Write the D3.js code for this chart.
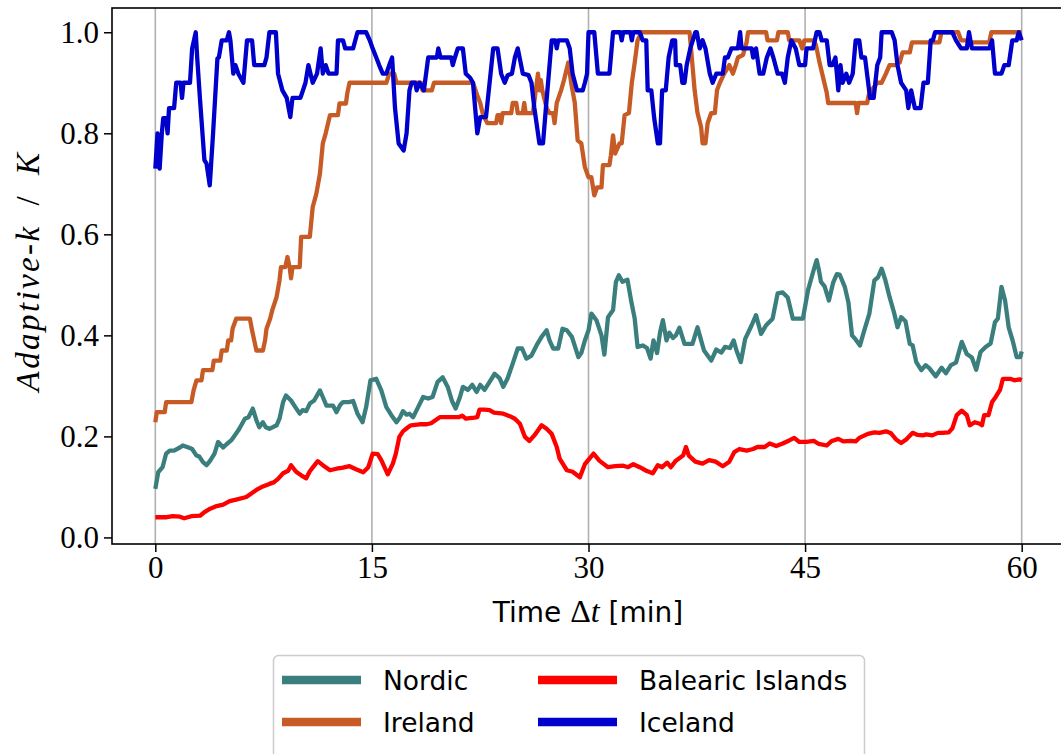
<!DOCTYPE html>
<html>
<head>
<meta charset="utf-8">
<script src="https://cdn.jsdelivr.net/npm/d3@7"></script>
<style>
  body { margin: 0; background: #ffffff; }
  svg { display: block; }
</style>
</head>
<body>
<svg id="chart" width="1061" height="754"></svg>
<script>
// ---- data -------------------------------------------------------------
const seriesNames = ["Nordic", "Ireland", "Balearic Islands", "Iceland"];
const xTicks = [0, 15, 30, 45, 60];
const yTicks = [0.0, 0.2, 0.4, 0.6, 0.8, 1.0];

// [time in minutes, adaptive-k / K]
const nordic = [
  [0,0.096],[0.2,0.129],[0.5,0.139],[0.75,0.166],[1.0,0.172],[1.3,0.172],[1.7,0.178],[1.9,0.182],[2.3,0.178],[2.55,0.175],
  [2.85,0.162],[3.05,0.16],[3.3,0.149],[3.55,0.143],[3.8,0.152],[4.1,0.166],[4.35,0.189],[4.7,0.178],[4.95,0.185],[5.25,0.192],
  [5.5,0.202],[5.75,0.212],[5.95,0.222],[6.2,0.235],[6.45,0.238],[6.75,0.255],[7.0,0.232],[7.2,0.218],[7.45,0.228],[7.65,0.218],
  [7.9,0.215],[8.4,0.222],[8.6,0.235],[8.85,0.268],[9.05,0.281],[9.4,0.271],[9.65,0.26],[10.0,0.245],[10.2,0.252],[10.45,0.25],
  [10.7,0.265],[11.0,0.271],[11.4,0.291],[11.6,0.278],[11.85,0.261],[12.3,0.261],[12.55,0.248],[12.8,0.262],[13.0,0.268],[13.4,0.268],
  [13.7,0.27],[14.0,0.245],[14.35,0.228],[14.6,0.258],[14.9,0.311],[15.3,0.314],[15.65,0.291],[16.0,0.258],[16.35,0.242],[16.7,0.228],
  [16.95,0.238],[17.15,0.25],[17.4,0.243],[17.6,0.245],[17.85,0.238],[18.2,0.258],[18.55,0.278],[18.9,0.275],[19.2,0.278],[19.55,0.308],
  [19.9,0.317],[20.25,0.298],[20.55,0.27],[20.8,0.255],[21.1,0.278],[21.3,0.298],[21.65,0.292],[21.95,0.302],[22.25,0.288],[22.5,0.302],
  [22.8,0.292],[23.15,0.308],[23.5,0.324],[23.85,0.315],[24.1,0.298],[24.4,0.315],[24.75,0.344],[25.1,0.374],[25.4,0.374],[25.7,0.354],
  [26.05,0.36],[26.4,0.38],[26.75,0.397],[27.1,0.41],[27.3,0.39],[27.55,0.374],[27.9,0.374],[28.2,0.413],[28.5,0.41],[28.85,0.397],
  [29.3,0.357],[29.5,0.365],[29.75,0.39],[30.0,0.41],[30.2,0.443],[30.55,0.43],[30.9,0.40],[31.1,0.362],[31.35,0.436],[31.7,0.45],
  [31.9,0.506],[32.1,0.519],[32.35,0.506],[32.7,0.51],[32.95,0.469],[33.2,0.433],[33.4,0.377],[33.75,0.38],[34.05,0.375],[34.3,0.354],
  [34.5,0.39],[34.75,0.365],[34.95,0.405],[35.15,0.43],[35.4,0.39],[35.6,0.405],[35.85,0.395],[36.05,0.40],[36.3,0.415],[36.65,0.383],
  [37.2,0.383],[37.55,0.416],[37.8,0.39],[38.0,0.37],[38.5,0.35],[38.85,0.372],[39.2,0.366],[39.45,0.377],[39.8,0.375],[40.05,0.39],
  [40.25,0.37],[40.55,0.347],[40.85,0.393],[41.3,0.42],[41.6,0.44],[41.95,0.403],[42.3,0.42],[42.75,0.433],[43.1,0.483],[43.45,0.485],
  [43.8,0.475],[44.15,0.433],[44.85,0.433],[45.2,0.489],[45.55,0.525],[45.8,0.549],[45.95,0.53],[46.1,0.506],[46.35,0.497],[46.65,0.469],
  [46.95,0.505],[47.2,0.521],[47.4,0.52],[47.75,0.496],[48.0,0.465],[48.25,0.40],[48.5,0.392],[48.8,0.38],[49.1,0.41],[49.45,0.443],
  [49.8,0.509],[50.05,0.515],[50.3,0.532],[50.55,0.51],[50.85,0.476],[51.15,0.446],[51.4,0.416],[51.65,0.436],[51.95,0.428],[52.25,0.383],
  [52.45,0.38],[52.7,0.347],[53.05,0.331],[53.35,0.341],[53.6,0.335],[54.05,0.319],[54.45,0.336],[54.75,0.325],[55.1,0.341],[55.45,0.346],
  [55.85,0.387],[56.2,0.363],[56.55,0.356],[56.85,0.332],[57.15,0.367],[57.5,0.377],[57.85,0.384],[58.15,0.426],[58.35,0.433],[58.6,0.496],
  [58.85,0.469],[59.1,0.416],[59.4,0.387],[59.65,0.357],[59.9,0.357],[60,0.368]
];

const ireland = [
  [0,0.228],[0.1,0.248],[0.65,0.248],[0.75,0.268],[2.5,0.268],[2.65,0.291],[2.85,0.311],[3.2,0.311],[3.3,0.331],[3.95,0.331],
  [4.05,0.35],[4.5,0.35],[4.6,0.37],[4.95,0.37],[5.05,0.39],[5.25,0.39],[5.35,0.413],[5.6,0.433],[6.55,0.433],[6.7,0.41],
  [6.85,0.39],[7.0,0.37],[7.45,0.37],[7.6,0.39],[7.7,0.413],[7.95,0.433],[8.1,0.45],[8.4,0.476],[8.6,0.509],[8.7,0.535],
  [9.0,0.535],[9.15,0.555],[9.3,0.535],[9.4,0.513],[9.5,0.535],[10.0,0.535],[10.1,0.595],[10.7,0.595],[10.9,0.654],[11.15,0.68],
  [11.4,0.72],[11.6,0.78],[11.8,0.80],[12.1,0.836],[12.65,0.836],[12.75,0.859],[13.2,0.859],[13.3,0.88],[13.45,0.90],[16.0,0.90],
  [16.2,0.918],[16.55,0.918],[16.7,0.90],[18.4,0.90],[18.5,0.885],[19.15,0.885],[19.3,0.90],[22.0,0.90],[22.3,0.875],[22.5,0.86],
  [22.7,0.836],[23.0,0.82],[23.6,0.82],[23.7,0.836],[23.85,0.836],[23.95,0.82],[24.05,0.84],[24.65,0.84],[24.75,0.86],[25.0,0.86],
  [25.1,0.84],[25.45,0.84],[25.55,0.86],[25.65,0.84],[26.15,0.84],[26.35,0.885],[26.5,0.918],[26.6,0.885],[26.7,0.905],[26.8,0.885],
  [27.1,0.85],[27.3,0.84],[27.55,0.84],[27.65,0.82],[27.8,0.86],[28.1,0.885],[28.3,0.905],[28.6,0.94],[28.8,0.90],[29.05,0.86],
  [29.25,0.786],[29.5,0.78],[29.75,0.733],[30.0,0.713],[30.2,0.713],[30.4,0.677],[30.6,0.693],[30.9,0.693],[31.0,0.737],[31.45,0.737],
  [31.55,0.756],[31.7,0.796],[31.85,0.76],[32.15,0.78],[32.3,0.78],[32.5,0.836],[32.8,0.84],[33.0,0.90],[33.2,0.94],[33.4,0.984],
  [33.67,1.0],[37.0,1.0],[37.1,0.968],[37.35,0.885],[37.55,0.84],[37.8,0.812],[37.9,0.78],[38.1,0.78],[38.25,0.82],[38.5,0.84],
  [38.75,0.84],[38.9,0.885],[39.1,0.90],[39.4,0.918],[39.75,0.935],[40.0,0.918],[40.2,0.935],[40.35,0.95],[40.7,0.955],[40.95,0.98],
  [41.05,1.0],[42.3,1.0],[42.4,0.984],[43.05,0.984],[43.15,1.0],[43.8,1.0],[43.9,0.984],[44.6,0.984],[44.8,0.968],[44.95,0.984],
  [45.6,0.984],[45.75,0.975],[46.0,0.94],[46.25,0.91],[46.5,0.88],[46.6,0.86],[48.5,0.86],[48.6,0.84],[48.7,0.86],[49.3,0.86],
  [49.4,0.875],[49.6,0.885],[50.0,0.90],[50.3,0.90],[50.6,0.918],[50.85,0.935],[51.3,0.935],[51.55,0.94],[51.75,0.96],[52.25,0.96],
  [52.4,0.98],[54.3,0.98],[54.45,1.0],[55.6,1.0],[55.8,0.984],[56.3,0.984],[56.4,0.98],[57.75,0.98],[57.9,1.0],[60,1.0]
];

const balearic = [
  [0,0.040],[0.8,0.040],[1.2,0.042],[1.7,0.041],[2.0,0.038],[2.5,0.042],[3.1,0.043],[3.4,0.050],[3.8,0.057],[4.25,0.062],
  [4.7,0.065],[5.15,0.072],[5.6,0.075],[6.3,0.080],[6.65,0.087],[7.0,0.094],[7.45,0.101],[7.9,0.106],[8.2,0.109],[8.5,0.116],
  [8.85,0.127],[9.2,0.132],[9.4,0.143],[9.75,0.130],[10.1,0.123],[10.45,0.117],[10.7,0.131],[10.95,0.140],[11.25,0.151],[11.6,0.143],
  [12.1,0.133],[12.55,0.136],[13.0,0.138],[13.45,0.141],[13.9,0.135],[14.4,0.129],[14.75,0.139],[15.05,0.166],[15.4,0.165],[15.65,0.153],
  [16.1,0.125],[16.45,0.146],[16.65,0.165],[16.9,0.199],[17.15,0.21],[17.5,0.218],[17.7,0.222],[18.3,0.224],[18.8,0.224],[19.1,0.226],
  [19.45,0.233],[19.7,0.238],[20.4,0.238],[21.0,0.238],[21.25,0.241],[21.5,0.235],[22.1,0.237],[22.3,0.238],[22.45,0.253],[22.8,0.253],
  [23.15,0.252],[23.45,0.247],[24.1,0.245],[24.55,0.24],[24.9,0.235],[25.25,0.225],[25.6,0.199],[25.9,0.191],[26.25,0.202],[26.75,0.222],
  [27.1,0.215],[27.45,0.205],[27.8,0.179],[28.0,0.156],[28.5,0.133],[28.9,0.13],[29.4,0.119],[29.75,0.145],[30.35,0.166],[30.75,0.152],
  [31.35,0.139],[31.85,0.141],[32.4,0.142],[32.75,0.139],[33.1,0.145],[33.55,0.139],[34.0,0.132],[34.45,0.127],[34.8,0.143],[35.1,0.139],
  [35.45,0.148],[35.7,0.139],[36.05,0.152],[36.55,0.162],[36.75,0.179],[36.95,0.162],[37.4,0.15],[37.9,0.146],[38.35,0.153],[38.8,0.15],
  [39.3,0.141],[39.75,0.15],[40.1,0.169],[40.45,0.175],[40.95,0.172],[41.4,0.175],[41.7,0.179],[42.2,0.179],[42.55,0.186],[43.0,0.181],
  [43.45,0.186],[43.9,0.192],[44.25,0.197],[44.6,0.189],[45.1,0.189],[45.6,0.191],[45.95,0.185],[46.5,0.182],[46.85,0.191],[47.3,0.195],
  [47.65,0.19],[48.15,0.191],[48.5,0.19],[48.75,0.197],[49.35,0.205],[49.8,0.208],[50.15,0.207],[50.6,0.21],[50.95,0.206],[51.3,0.194],
  [51.65,0.187],[52.0,0.194],[52.45,0.207],[52.8,0.203],[53.15,0.202],[53.4,0.204],[53.8,0.202],[54.2,0.207],[54.5,0.207],[54.95,0.208],
  [55.2,0.216],[55.5,0.242],[55.85,0.251],[56.2,0.242],[56.4,0.222],[56.75,0.228],[57.1,0.225],[57.25,0.222],[57.4,0.242],[57.7,0.242],
  [57.95,0.268],[58.2,0.278],[58.5,0.292],[58.7,0.314],[59.2,0.314],[59.5,0.311],[59.85,0.313],[60,0.311]
];

const iceland = [
  [0,0.73],[0.15,0.80],[0.3,0.73],[0.45,0.80],[0.55,0.83],[0.75,0.83],[0.85,0.80],[0.95,0.85],[1.3,0.85],[1.45,0.90],
  [1.75,0.90],[1.85,0.87],[1.95,0.90],[2.4,0.90],[2.55,0.968],[2.8,1.0],[2.9,0.95],[3.1,0.865],[3.4,0.747],[3.55,0.74],
  [3.77,0.697],[4.0,0.80],[4.3,0.948],[4.4,0.95],[4.6,0.984],[4.95,0.984],[5.1,1.0],[5.2,0.984],[5.4,0.918],[5.55,0.935],
  [5.75,0.918],[6.1,0.90],[6.35,0.984],[6.7,0.984],[6.85,0.935],[7.55,0.935],[7.7,0.95],[7.9,1.0],[8.35,1.0],[8.5,0.918],
  [8.8,0.885],[9.1,0.87],[9.35,0.832],[9.5,0.87],[10.05,0.87],[10.4,0.90],[10.6,0.935],[10.9,0.90],[11.2,0.918],[11.45,0.968],
  [11.6,0.918],[11.8,0.935],[12.0,0.918],[12.55,0.918],[12.65,0.984],[13.0,0.984],[13.15,0.968],[13.7,0.968],[14.0,1.0],[14.6,1.0],
  [14.85,0.984],[15.05,0.968],[15.3,0.95],[15.5,0.935],[15.75,0.918],[16.0,0.918],[16.2,0.935],[16.4,0.95],[16.6,0.85],[16.85,0.78],
  [17.2,0.766],[17.4,0.80],[17.6,0.885],[17.75,0.90],[18.0,0.90],[18.1,0.885],[18.3,0.90],[18.6,0.885],[18.9,0.95],[19.5,0.95],
  [19.6,0.968],[19.75,0.95],[20.5,0.95],[20.6,0.935],[20.75,0.95],[20.95,0.968],[21.3,0.968],[21.5,0.918],[21.8,0.91],[22.0,0.90],
  [22.15,0.85],[22.3,0.80],[22.5,0.832],[22.9,0.832],[23.15,0.90],[23.4,0.968],[23.7,0.968],[23.95,0.918],[24.2,0.90],[24.4,0.915],
  [24.7,0.918],[24.9,0.95],[25.1,0.968],[25.3,0.94],[25.45,0.918],[25.85,0.915],[26.05,0.90],[26.25,0.85],[26.5,0.80],[26.6,0.78],
  [26.85,0.78],[27.05,0.85],[27.45,0.984],[27.7,0.984],[27.8,0.968],[27.9,0.984],[28.5,0.984],[28.7,0.968],[28.9,0.918],[29.2,0.885],
  [29.6,0.885],[29.75,0.90],[29.9,0.918],[30.0,1.0],[30.4,1.0],[30.65,0.918],[31.45,0.918],[31.7,1.0],[32.2,1.0],[32.3,0.984],
  [32.4,1.0],[32.9,1.0],[33.0,0.984],[33.1,1.0],[33.55,1.0],[33.75,0.984],[34.0,0.984],[34.1,0.885],[34.35,0.885],[34.55,0.83],
  [34.8,0.78],[34.95,0.78],[35.1,0.885],[35.35,0.885],[35.55,0.95],[35.8,0.984],[36.0,0.984],[36.05,0.935],[36.35,0.935],[36.5,0.90],
  [36.65,0.90],[36.8,0.935],[37.05,0.968],[37.4,1.0],[37.5,1.0],[37.7,0.968],[37.9,0.984],[38.1,0.968],[38.4,0.918],[38.6,0.90],
  [38.85,0.918],[39.3,0.918],[39.45,0.95],[39.65,0.95],[39.9,0.968],[40.35,0.968],[40.5,1.0],[40.6,0.968],[41.3,0.968],[41.4,0.95],
  [41.6,0.968],[41.85,0.918],[42.1,0.918],[42.35,0.95],[42.6,0.968],[42.8,0.95],[43.1,0.918],[43.4,0.918],[43.6,0.90],[43.8,0.95],
  [44.05,0.984],[44.35,0.968],[44.6,0.935],[45.0,0.935],[45.1,0.968],[45.55,0.968],[45.8,1.0],[46.0,1.0],[46.15,0.984],[46.5,0.984],
  [46.7,0.935],[46.9,0.935],[47.1,0.95],[47.3,0.885],[47.45,0.935],[47.6,0.90],[47.85,0.918],[48.05,0.90],[48.3,0.918],[48.5,0.984],
  [48.75,0.984],[48.9,0.95],[49.15,0.95],[49.5,0.87],[49.75,0.87],[50.0,0.935],[50.2,0.95],[50.3,1.0],[51.0,1.0],[51.2,0.984],
  [51.4,0.935],[51.65,0.90],[52.0,0.885],[52.15,0.85],[52.35,0.885],[52.6,0.85],[53.0,0.85],[53.2,0.90],[53.5,0.90],[53.7,0.984],
  [53.85,0.984],[54.0,1.0],[55.2,1.0],[55.45,0.984],[55.8,0.968],[56.2,0.968],[56.35,1.0],[56.55,0.968],[57.75,0.968],[57.95,0.984],
  [58.15,0.918],[58.6,0.918],[58.8,0.935],[59.1,0.935],[59.35,0.984],[59.65,0.984],[59.8,1.0],[60,0.984]
];

// ---- drawing ----------------------------------------------------------
const seriesData = [nordic, ireland, balearic, iceland];
const colors = ["#3a7f7e", "#c75b26", "#ff0000", "#0000cc"];

const svg = d3.select("#chart");
const plot = { left: 112, right: 1065, top: 8, bottom: 544 };

const x = d3.scaleLinear().domain([-3, 63]).range([plot.left, plot.right]);
const y = d3.scaleLinear().domain([-0.013, 1.048]).range([plot.bottom, plot.top]);

const serif = "'Liberation Serif', 'DejaVu Serif', serif";
const sans = "'DejaVu Sans', 'Liberation Sans', sans-serif";

// vertical grid lines
svg.append("g")
  .selectAll("line")
  .data(xTicks)
  .join("line")
  .attr("x1", d => x(d)).attr("x2", d => x(d))
  .attr("y1", plot.top).attr("y2", plot.bottom)
  .attr("stroke", "#b0b0b0")
  .attr("stroke-width", 1.6);

// series lines
const line = d3.line().x(d => x(d[0])).y(d => y(d[1]));
svg.append("g")
  .selectAll("path")
  .data(seriesData)
  .join("path")
  .attr("d", line)
  .attr("fill", "none")
  .attr("stroke", (d, i) => colors[i])
  .attr("stroke-width", 4.3)
  .attr("stroke-linejoin", "round")
  .attr("stroke-linecap", "butt");

// axes
const xAxis = svg.append("g")
  .attr("transform", `translate(0,${plot.bottom})`)
  .call(d3.axisBottom(x).tickValues(xTicks).tickFormat(d3.format("d"))
    .tickSize(8).tickSizeOuter(0).tickPadding(4));

const yAxis = svg.append("g")
  .attr("transform", `translate(${plot.left},0)`)
  .call(d3.axisLeft(y).tickValues(yTicks).tickFormat(d3.format(".1f"))
    .tickSize(8).tickSizeOuter(0).tickPadding(5));

[xAxis, yAxis].forEach(g => {
  g.select(".domain").remove();
  g.selectAll(".tick line").attr("stroke", "#000").attr("stroke-width", 1.5);
  g.selectAll(".tick text")
    .attr("fill", "#000")
    .style("font-family", serif)
    .style("font-size", "31px");
});

// frame
svg.append("rect")
  .attr("x", plot.left).attr("y", plot.top)
  .attr("width", plot.right - plot.left).attr("height", plot.bottom - plot.top)
  .attr("fill", "none").attr("stroke", "#000").attr("stroke-width", 1.6);

// x axis title
const xt = svg.append("text")
  .attr("x", 588).attr("y", 622)
  .attr("text-anchor", "middle")
  .style("font-family", sans).style("font-size", "28px");
xt.append("tspan").text("Time ");
xt.append("tspan").style("font-family", serif).style("font-size", "32px").text("Δ");
xt.append("tspan").style("font-family", serif).style("font-style", "italic").style("font-size", "32px").text("t");
xt.append("tspan").text(" [min]");

// y axis title
const yt = svg.append("text")
  .attr("transform", "translate(39,271) rotate(-90)")
  .attr("text-anchor", "middle")
  .style("font-family", serif).style("font-size", "33px")
  .style("letter-spacing", "2.4px");
yt.append("tspan").style("font-style", "italic").text("Adaptive");
yt.append("tspan").text("-");
yt.append("tspan").style("font-style", "italic").text("k");
yt.append("tspan").text("\u2002/\u2002");
yt.append("tspan").style("font-style", "italic").text("K");

// legend
const legend = svg.append("g");
legend.append("rect")
  .attr("x", 273.5).attr("y", 655.5)
  .attr("width", 591).attr("height", 130)
  .attr("rx", 5)
  .attr("fill", "#ffffff").attr("fill-opacity", 0.8)
  .attr("stroke", "#cccccc").attr("stroke-width", 1.5);

const legendCols = [282, 538];
const legendRows = [680, 722];
const entries = legend.selectAll("g.entry")
  .data(seriesNames)
  .join("g")
  .attr("class", "entry")
  .attr("transform", (d, i) => `translate(${legendCols[Math.floor(i / 2)]},${legendRows[i % 2]})`);
entries.append("line")
  .attr("x1", 0).attr("x2", 79).attr("y1", 0).attr("y2", 0)
  .attr("stroke", (d, i) => colors[i])
  .attr("stroke-width", 8.5);
entries.append("text")
  .attr("x", 101).attr("y", 10)
  .style("font-family", sans).style("font-size", "26.5px")
  .attr("fill", "#000")
  .text(d => d);
</script>
</body>
</html>
